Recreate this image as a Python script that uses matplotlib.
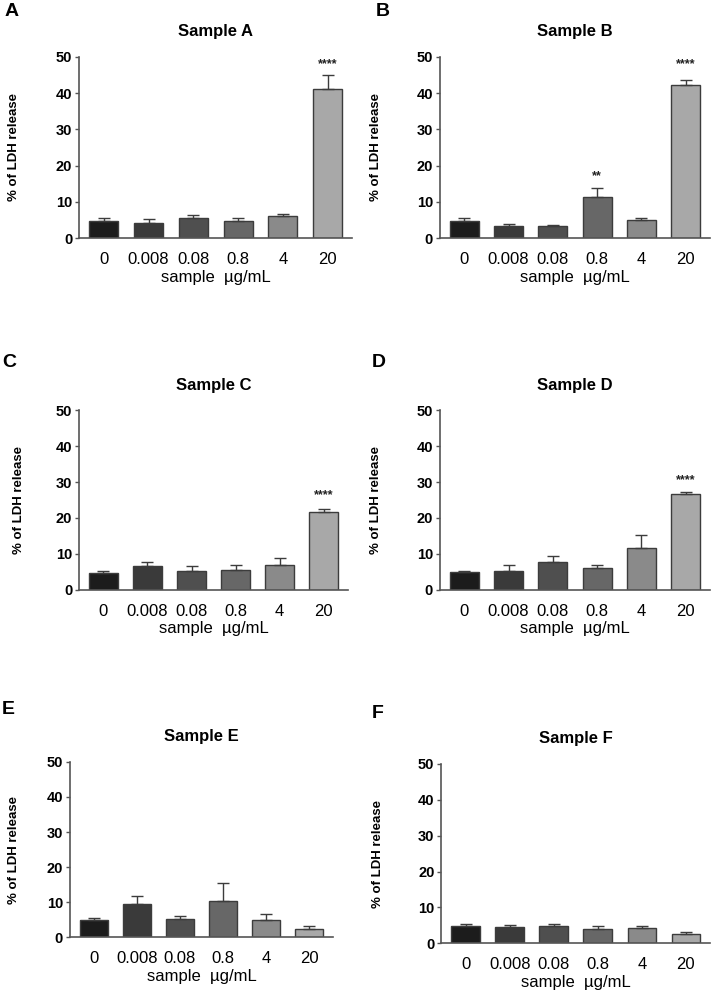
import numpy as np
import matplotlib
matplotlib.use("Agg")
import matplotlib.pyplot as plt

plt.rcParams["font.family"] = ["Liberation Sans", "DejaVu Sans"]

doses = ["0", "0.008", "0.08", "0.8", "4", "20"]
bar_colors = ["#1c1c1c", "#3a3a3a", "#4f4f4f", "#676767", "#8a8a8a", "#a8a8a8"]

# mean % LDH release per dose and upper error (SEM)
mean_a = [4.8, 4.2, 5.4, 4.8, 6.0, 41.2]
err_a = [0.6, 1.1, 1.0, 0.6, 0.7, 3.8]
mean_b = [4.8, 3.4, 3.3, 11.2, 4.9, 42.3]
err_b = [0.6, 0.5, 0.4, 2.7, 0.5, 1.3]
mean_c = [4.7, 6.5, 5.3, 5.6, 6.8, 21.7]
err_c = [0.6, 1.1, 1.2, 1.2, 2.1, 0.8]
mean_d = [4.8, 5.3, 7.6, 6.0, 11.5, 26.7]
err_d = [0.5, 1.6, 1.9, 1.0, 3.6, 0.5]
mean_e = [4.8, 9.6, 5.3, 10.2, 5.0, 2.4]
err_e = [0.6, 2.1, 0.8, 5.2, 1.7, 0.9]
mean_f = [4.8, 4.5, 4.9, 4.1, 4.2, 2.6]
err_f = [0.5, 0.5, 0.5, 0.7, 0.5, 0.5]

# significance marks: (bar index, label, y position)
stars_a = [(5, "****", 48.0)]
stars_b = [(3, "**", 17.0), (5, "****", 48.0)]
stars_c = [(5, "****", 26.3)]
stars_d = [(5, "****", 30.4)]
stars_e = []
stars_f = []

panels = [
    ("A", "Sample A", mean_a, err_a, stars_a, [0.111, 0.761, 0.383, 0.182], -0.216, (0.006, 0.997)),
    ("B", "Sample B", mean_b, err_b, stars_b, [0.617, 0.761, 0.379, 0.182], -0.215, (0.527, 0.997)),
    ("C", "Sample C", mean_c, err_c, stars_c, [0.111, 0.408, 0.377, 0.180], -0.200, (0.003, 0.645)),
    ("D", "Sample D", mean_d, err_d, stars_d, [0.617, 0.408, 0.379, 0.180], -0.215, (0.522, 0.645)),
    ("E", "Sample E", mean_e, err_e, stars_e, [0.098, 0.059, 0.369, 0.176], -0.190, (0.003, 0.296)),
    ("F", "Sample F", mean_f, err_f, stars_f, [0.619, 0.053, 0.377, 0.180], -0.215, (0.522, 0.292)),
]


def draw_panel(fig, letter, title, means, errs, stars, rect, ylab_x, letter_pos):
    ax = fig.add_axes(rect)
    x = np.arange(len(doses))
    lower = np.zeros(len(errs))
    ax.bar(x, means, width=0.65, color=bar_colors, edgecolor="#3c3c3c", linewidth=1.0,
           yerr=[lower, errs], capsize=4.5,
           error_kw=dict(ecolor="#3c3c3c", elinewidth=1.0, capthick=1.0), zorder=2)
    for idx, label, ypos in stars:
        ax.text(idx, ypos, label, ha="center", va="center", fontsize=9, fontweight="bold",
                color="#222222")

    ax.set_xlim(-0.55, 5.55)
    ax.set_ylim(0, 50)
    ax.set_yticks([0, 10, 20, 30, 40, 50])
    ax.set_xticks(x)
    ax.set_xticklabels(doses, fontsize=12)
    ax.tick_params(axis="x", length=0, pad=10)
    ax.tick_params(axis="y", length=3, width=1, color="#555555", pad=2, labelsize=10.5)
    for lbl in ax.get_yticklabels():
        lbl.set_fontweight("bold")

    for side in ["top", "right"]:
        ax.spines[side].set_visible(False)
    for side in ["left", "bottom"]:
        ax.spines[side].set_color("#555555")
        ax.spines[side].set_linewidth(1.2)

    ax.set_title(title, fontsize=12, fontweight="bold", pad=15)
    ax.set_ylabel("% of LDH release", fontsize=9.5, fontweight="bold")
    ax.yaxis.set_label_coords(ylab_x, 0.5)
    ax.set_xlabel("sample  \u00b5g/mL", fontsize=12, labelpad=2)

    fig.text(letter_pos[0], letter_pos[1], letter, fontsize=14, fontweight="bold",
             ha="left", va="top")
    return ax


def main():
    fig = plt.figure(figsize=(7.13, 9.96), dpi=100)
    for letter, title, means, errs, stars, rect, ylab_x, letter_pos in panels:
        draw_panel(fig, letter, title, means, errs, stars, rect, ylab_x, letter_pos)
    fig.savefig("out.png", dpi=100, facecolor="white")


if __name__ == "__main__":
    main()
